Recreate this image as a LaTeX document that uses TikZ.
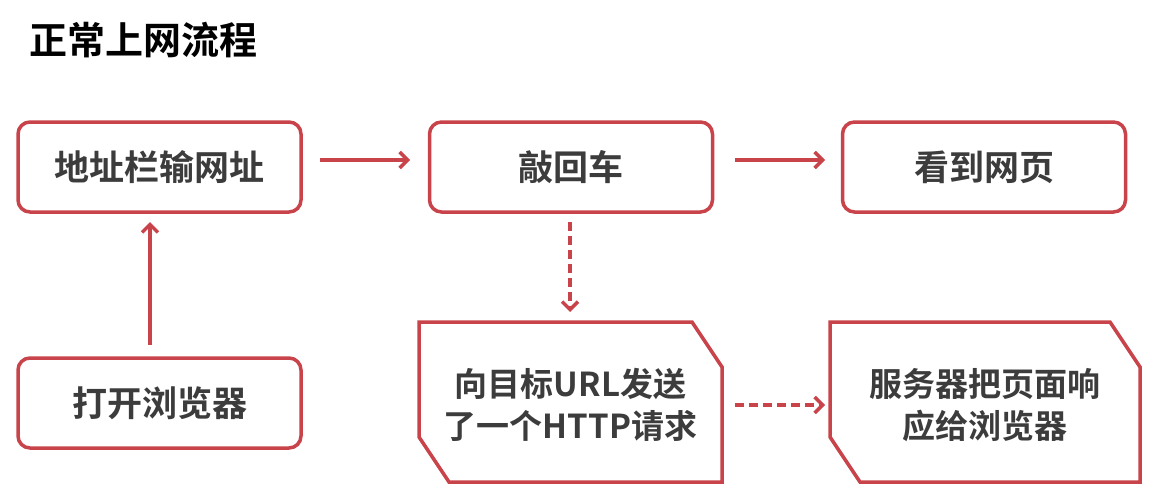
\documentclass[tikz,border=0pt]{standalone}
\usepackage{fontspec}
\setmainfont{Noto Sans CJK SC}[BoldFont={* Bold}]
\usetikzlibrary{arrows.meta}
\definecolor{rd}{HTML}{C8434A}
\definecolor{tx}{HTML}{3C3C3C}
\tikzset{
 rbox/.style={draw=rd,line width=3.5pt,rounded corners=12pt,fill=white,minimum width=283pt,minimum height=90pt,font=\fontsize{35}{40}\selectfont\bfseries,text=tx,align=center},
 ar/.style={draw=rd,line width=3.5pt,-{Straight Barb[length=8pt,width=16pt]}},
 dar/.style={ar,dash pattern=on 9pt off 5pt},
 snip/.style={draw=rd,line width=3.5pt,fill=white,line join=miter}
}
\begin{document}
\begin{tikzpicture}[x=1pt,y=-1pt]
\useasboundingbox (0,0) rectangle (1166,498);
\node[anchor=west,font=\fontsize{38}{42}\selectfont\bfseries,text=black] (title) at (26,40) {正常上网流程};
\node[rbox] (a) at (159.5,167) {地址栏输网址};
\node[rbox] (b) at (571,167) {敲回车};
\node[rbox] (c) at (984,167) {看到网页};
\node[rbox] (d) at (159.5,403) {打开浏览器};
\draw[snip] (419,322) -- (692,322) -- (722,367) -- (722,482) -- (449,482) -- (419,437) -- cycle;
\draw[snip] (830,322) -- (1110,322) -- (1140,367) -- (1140,482) -- (860,482) -- (830,437) -- cycle;
\node[font=\fontsize{33}{42}\selectfont\bfseries,text=tx,align=center] (e) at (570.5,405) {向目标URL发送\\了一个HTTP请求};
\node[font=\fontsize{33}{42}\selectfont\bfseries,text=tx,align=center] (f) at (985,405) {服务器把页面响\\应给浏览器};
\coordinate (a1) at (320,160); \coordinate (a2) at (410,160);
\coordinate (b1) at (735,160); \coordinate (b2) at (825,160);
\coordinate (d1) at (150,345); \coordinate (d2) at (150,222);
\coordinate (e1) at (570,222); \coordinate (e2) at (570,312);
\coordinate (f1) at (735,405); \coordinate (f2) at (825,405);
\draw[ar] (a1) -- (a2);
\draw[ar] (b1) -- (b2);
\draw[ar] (d1) -- (d2);
\draw[dar] (e1) -- (e2);
\draw[dar] (f1) -- (f2);
\end{tikzpicture}
\end{document}
